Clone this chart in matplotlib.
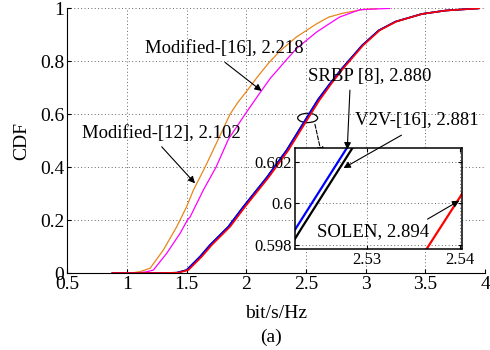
import matplotlib
matplotlib.use('Agg')
import matplotlib.pyplot as plt
from matplotlib.patches import Ellipse

plt.rcParams['font.family'] = ['Liberation Serif', 'DejaVu Serif']
plt.rcParams['xtick.direction'] = 'in'
plt.rcParams['ytick.direction'] = 'in'

# Modified-[12]
m12_x = [0.88, 1.05, 1.11, 1.195, 1.306, 1.418, 1.50, 1.557, 1.655, 1.76, 1.864, 1.93, 2.00, 2.10,
         2.19, 2.28, 2.42, 2.59, 2.69, 2.81, 2.98, 3.10]
m12_y = [0, 0.001, 0.005, 0.018, 0.087, 0.175, 0.25, 0.313, 0.40, 0.50, 0.60, 0.645, 0.685, 0.745,
         0.795, 0.838, 0.892, 0.942, 0.967, 0.982, 0.996, 1.0]

# Modified-[16]
m16_x = [0.88, 1.10, 1.16, 1.222, 1.333, 1.446, 1.507, 1.53, 1.613, 1.64, 1.747, 1.85, 1.99, 2.11,
         2.20, 2.325, 2.42, 2.59, 2.78, 2.95, 3.20]
m16_y = [0, 0.001, 0.004, 0.011, 0.074, 0.15, 0.20, 0.212, 0.288, 0.313, 0.40, 0.505, 0.60, 0.678,
         0.735, 0.80, 0.848, 0.911, 0.967, 0.995, 1.0]

# SRBP [8]
srbp_x = [0.88, 1.30, 1.418, 1.50, 1.613, 1.697, 1.85, 1.975, 2.17, 2.338, 2.45, 2.5224, 2.5279,
          2.60, 2.70, 2.80, 2.97, 3.11, 3.25, 3.47, 3.67, 3.94]
srbp_y = [0, 0, 0.001, 0.011, 0.062, 0.106, 0.175, 0.25, 0.36, 0.464, 0.546, 0.5988, 0.6027,
          0.655, 0.715, 0.772, 0.86, 0.917, 0.95, 0.979, 0.992, 1.0]

# V2V-[16]
v2v_x = [0.88, 1.30, 1.418, 1.50, 1.613, 1.697, 1.85, 1.975, 2.17, 2.338, 2.4506, 2.5230, 2.5285,
         2.6006, 2.70, 2.80, 2.97, 3.11, 3.25, 3.47, 3.67, 3.94]
v2v_y = srbp_y

# SOLEN
solen_x = [0.88, 1.30, 1.43, 1.515, 1.628, 1.712, 1.865, 1.99, 2.185, 2.353, 2.465, 2.5364, 2.5402,
           2.613, 2.712, 2.81, 2.978, 3.117, 3.255, 3.473, 3.672, 3.95]
solen_y = [0, 0, 0.001, 0.011, 0.062, 0.106, 0.175, 0.25, 0.36, 0.464, 0.546, 0.5978, 0.60046,
           0.653, 0.715, 0.772, 0.86, 0.917, 0.95, 0.979, 0.992, 1.0]

xticks = [0.5, 1, 1.5, 2, 2.5, 3, 3.5, 4]
xtick_labels = ['0.5', '1', '1.5', '2', '2.5', '3', '3.5', '4']
yticks = [0, 0.2, 0.4, 0.6, 0.8, 1]
ytick_labels = ['0', '0.2', '0.4', '0.6', '0.8', '1']

orange = '#E8861A'
pink = '#FF00FF'
dots = (0, (1, 2.5))

fig = plt.figure(figsize=(4.9, 3.5), dpi=100)
ax = fig.add_axes([0.137, 0.22, 0.853, 0.756])

ax.plot(m12_x, m12_y, color=orange, lw=0.9)
ax.plot(m16_x, m16_y, color=pink, lw=0.9)
ax.plot(v2v_x, v2v_y, color='black', lw=1.2)
ax.plot(srbp_x, srbp_y, color='blue', lw=1.2)
ax.plot(solen_x, solen_y, color='red', lw=1.2)

ax.set_xlim(0.5, 4)
ax.set_ylim(0, 1)
ax.set_xticks(xticks)
ax.set_xticklabels(xtick_labels)
ax.set_yticks(yticks)
ax.set_yticklabels(ytick_labels)
ax.tick_params(labelsize=14, length=3, pad=2)
ax.grid(True, linestyle=dots, color='0.4', lw=0.7)
ax.spines['top'].set_visible(False)
ax.spines['right'].set_visible(False)
ax.set_xlabel('bit/s/Hz', fontsize=14, labelpad=9)
ax.set_ylabel('CDF', fontsize=14, labelpad=7)
fig.text(0.553, 0.035, '(a)', fontsize=14, ha='center', va='center')

fs = 13.5
arrow = dict(arrowstyle='-|>', color='black', lw=0.8, mutation_scale=10, shrinkA=0, shrinkB=0)
ax.text(1.814, 0.849, 'Modified-[16], 2.218', fontsize=fs, ha='center', va='center')
ax.annotate('', xy=(2.129, 0.688), xytext=(1.822, 0.796), arrowprops=arrow)
ax.text(1.29, 0.528, 'Modified-[12], 2.102', fontsize=fs, ha='center', va='center')
ax.annotate('', xy=(1.571, 0.339), xytext=(1.292, 0.477), arrowprops=arrow)
ax.text(3.036, 0.743, 'SRBP [8], 2.880', fontsize=fs, ha='center', va='center')
ax.text(3.428, 0.575, 'V2V-[16], 2.881', fontsize=fs, ha='center', va='center')

ax.add_patch(Ellipse((2.514, 0.586), 0.167, 0.035, fill=False, color='black', lw=0.9))
ax.annotate('', xy=(2.631, 0.449), xytext=(2.575, 0.562),
            arrowprops=dict(arrowstyle='-|>', color='black', lw=0.8, linestyle='--',
                            mutation_scale=10, shrinkA=0, shrinkB=0))

# inset
ins = fig.add_axes([0.602, 0.2886, 0.341, 0.2886])
ins.plot(v2v_x, v2v_y, color='black', lw=1.6)
ins.plot(srbp_x, srbp_y, color='blue', lw=1.6)
ins.plot(solen_x, solen_y, color='red', lw=1.6)
ins.set_xlim(2.5223, 2.5402)
ins.set_ylim(0.5978, 0.60267)
ins.set_xticks([2.53, 2.54])
ins.set_xticklabels(['2.53', '2.54'])
ins.set_yticks([0.598, 0.6, 0.602])
ins.set_yticklabels(['0.598', '0.6', '0.602'])
ins.tick_params(labelsize=12, length=3, pad=2, top=True, right=True)
ins.grid(True, linestyle=dots, color='0.4', lw=0.7)
for s in ins.spines.values():
    s.set_linewidth(1.1)

ins.text(2.5307, 0.59864, 'SOLEN, 2.894', fontsize=fs, ha='center', va='center')
ins.annotate('', xy=(2.5399, 0.60013), xytext=(2.5365, 0.59924), arrowprops=arrow,
             annotation_clip=False)
ins.annotate('', xy=(2.5279, 0.6026), xytext=(2.868, 0.691), textcoords=ax.transData,
             arrowprops=arrow, annotation_clip=False)
ins.annotate('', xy=(2.5275, 0.6017), xytext=(3.30, 0.521), textcoords=ax.transData,
             arrowprops=arrow, annotation_clip=False)

fig.savefig('out.png', dpi=100)
